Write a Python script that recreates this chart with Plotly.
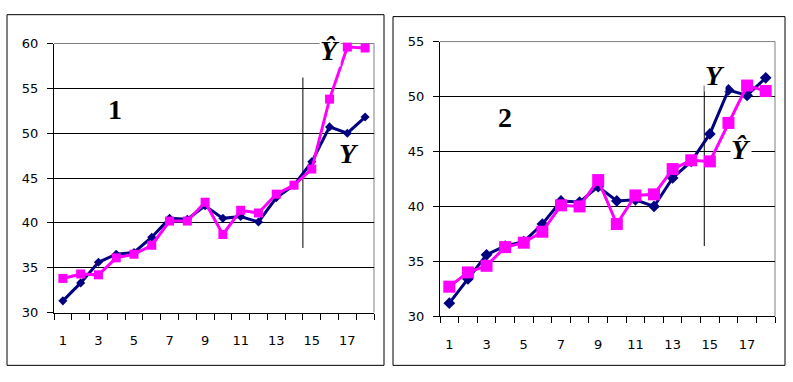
import plotly.graph_objects as go

W, H = 793, 382

# ---- data ----
periods = list(range(1, 19))
y_actual_1 = [31.3, 33.3, 35.6, 36.5, 36.7, 38.4, 40.5, 40.4, 41.9, 40.5, 40.7, 40.1, 42.8, 44.2, 46.8, 50.7, 50.0, 51.8]
y_hat_1 = [33.8, 34.3, 34.2, 36.1, 36.5, 37.5, 40.2, 40.2, 42.3, 38.7, 41.4, 41.1, 43.2, 44.2, 46.0, 53.8, 59.6, 59.5]
y_actual_2 = [31.2, 33.4, 35.6, 36.4, 36.8, 38.4, 40.5, 40.4, 41.8, 40.5, 40.6, 40.0, 42.6, 44.1, 46.6, 50.6, 50.1, 51.7]
y_hat_2 = [32.7, 34.0, 34.6, 36.3, 36.7, 37.7, 40.1, 40.0, 42.4, 38.4, 41.0, 41.1, 43.4, 44.2, 44.1, 47.6, 51.0, 50.5]
x_tick_labels = ["1", "3", "5", "7", "9", "11", "13", "15", "17"]
x_tick_vals = [1, 3, 5, 7, 9, 11, 13, 15, 17]
y_ticks_1 = [30, 35, 40, 45, 50, 55, 60]
y_ticks_2 = [30, 35, 40, 45, 50, 55]
split_1 = dict(x=14.5, y0=37.2, y1=56.2)
split_2 = dict(x=14.7, y0=36.4, y1=51.0)
panel_labels = ["1", "2"]

NAVY = "#000080"
MAGENTA = "#FF00FF"


def px_x(p):
    return p / W


def px_y(p):
    return 1 - p / H


fig = go.Figure()

# panel 1 traces
fig.add_trace(go.Scatter(x=periods, y=y_actual_1, mode="lines+markers", xaxis="x", yaxis="y",
                         line=dict(color=NAVY, width=3),
                         marker=dict(symbol="diamond", size=7, color=NAVY), cliponaxis=False,
                         showlegend=False))
fig.add_trace(go.Scatter(x=periods, y=y_hat_1, mode="lines+markers", xaxis="x", yaxis="y",
                         line=dict(color=MAGENTA, width=3),
                         marker=dict(symbol="square", size=9, color=MAGENTA), cliponaxis=False,
                         showlegend=False))
# panel 2 traces
fig.add_trace(go.Scatter(x=periods, y=y_actual_2, mode="lines+markers", xaxis="x2", yaxis="y2",
                         line=dict(color=NAVY, width=3),
                         marker=dict(symbol="diamond", size=9, color=NAVY), cliponaxis=False,
                         showlegend=False))
fig.add_trace(go.Scatter(x=periods, y=y_hat_2, mode="lines+markers", xaxis="x2", yaxis="y2",
                         line=dict(color=MAGENTA, width=3),
                         marker=dict(symbol="square", size=12, color=MAGENTA), cliponaxis=False,
                         showlegend=False))

tick_font = dict(family="DejaVu Sans", size=13, color="black")


def xaxis_cfg(domain, anchor):
    return dict(domain=domain, anchor=anchor, range=[0.5, 18.5], showgrid=False, zeroline=False,
                showline=True, linecolor="black", linewidth=1,
                tickmode="array", tickvals=x_tick_vals, ticktext=x_tick_labels,
                ticks="outside", ticklen=0, tickfont=tick_font, ticklabelstandoff=16,
                minor=dict(tickmode="linear", tick0=0.5, dtick=1, ticks="outside", ticklen=6,
                           tickcolor="black", showgrid=False))


def yaxis_cfg(domain, anchor, rng, ticks):
    return dict(domain=domain, anchor=anchor, range=rng, showgrid=True, gridcolor="black", gridwidth=1,
                zeroline=False, showline=True, linecolor="black", linewidth=1,
                tickmode="array", tickvals=ticks, ticks="outside", ticklen=6, tickcolor="black",
                tickfont=tick_font, ticklabelstandoff=6)


fig.update_layout(
    width=W, height=H, autosize=False,
    margin=dict(l=0, r=0, t=0, b=0),
    paper_bgcolor="white", plot_bgcolor="white",
    xaxis=xaxis_cfg([px_x(54), px_x(374)], "y"),
    yaxis=yaxis_cfg([px_y(318), px_y(38)], "x", [30, 60], y_ticks_1),
    xaxis2=xaxis_cfg([px_x(440), px_x(775)], "y2"),
    yaxis2=yaxis_cfg([px_y(322), px_y(36)], "x2", [30, 55], y_ticks_2),
)

shapes = []
# outer panel borders
shapes.append(dict(type="rect", xref="paper", yref="paper", x0=px_x(7), x1=px_x(384), y0=px_y(373), y1=px_y(8),
                   line=dict(color="black", width=1)))
shapes.append(dict(type="rect", xref="paper", yref="paper", x0=px_x(393), x1=px_x(785), y0=px_y(373), y1=px_y(10),
                   line=dict(color="black", width=1)))
# grey plot-area border (top & right)
for xr, yr in (("x domain", "y domain"), ("x2 domain", "y2 domain")):
    shapes.append(dict(type="line", xref=xr, yref=yr, x0=0, x1=1, y0=1, y1=1,
                       line=dict(color="#808080", width=1), layer="below"))
    shapes.append(dict(type="line", xref=xr, yref=yr, x0=1, x1=1, y0=0, y1=1,
                       line=dict(color="#808080", width=1), layer="below"))
# split lines
shapes.append(dict(type="line", xref="x", yref="y", x0=split_1["x"], x1=split_1["x"],
                   y0=split_1["y0"], y1=split_1["y1"], line=dict(color="black", width=1), layer="below"))
shapes.append(dict(type="line", xref="x2", yref="y2", x0=split_2["x"], x1=split_2["x"],
                   y0=split_2["y0"], y1=split_2["y1"], line=dict(color="black", width=1), layer="below"))
fig.update_layout(shapes=shapes)

serif_big = dict(family="Liberation Serif, Times New Roman", size=28, color="black")
serif_it = dict(family="Liberation Serif, Times New Roman", size=28, color="black")

annotations = [
    dict(x=3.93, y=52.6, xref="x", yref="y", text="<b>" + panel_labels[0] + "</b>", showarrow=False, font=serif_big),
    dict(x=3.99, y=48.1, xref="x2", yref="y2", text="<b>" + panel_labels[1] + "</b>", showarrow=False, font=serif_big),
    dict(x=16.0, y=59.2, xref="x", yref="y", text="<b><i>Ŷ</i></b>", showarrow=False, font=serif_it,
         bgcolor="white", borderpad=0),
    dict(x=17.1, y=47.7, xref="x", yref="y", text="<b><i>Y</i></b>", showarrow=False, font=serif_it),
    dict(x=15.28, y=51.9, xref="x2", yref="y2", text="<b><i>Y</i></b>", showarrow=False, font=serif_it,
         bgcolor="white", borderpad=0),
    dict(x=16.67, y=45.2, xref="x2", yref="y2", text="<b><i>Ŷ</i></b>", showarrow=False, font=serif_it,
         bgcolor="white", borderpad=0),
]
fig.update_layout(annotations=annotations)

fig.write_html("out.html")
